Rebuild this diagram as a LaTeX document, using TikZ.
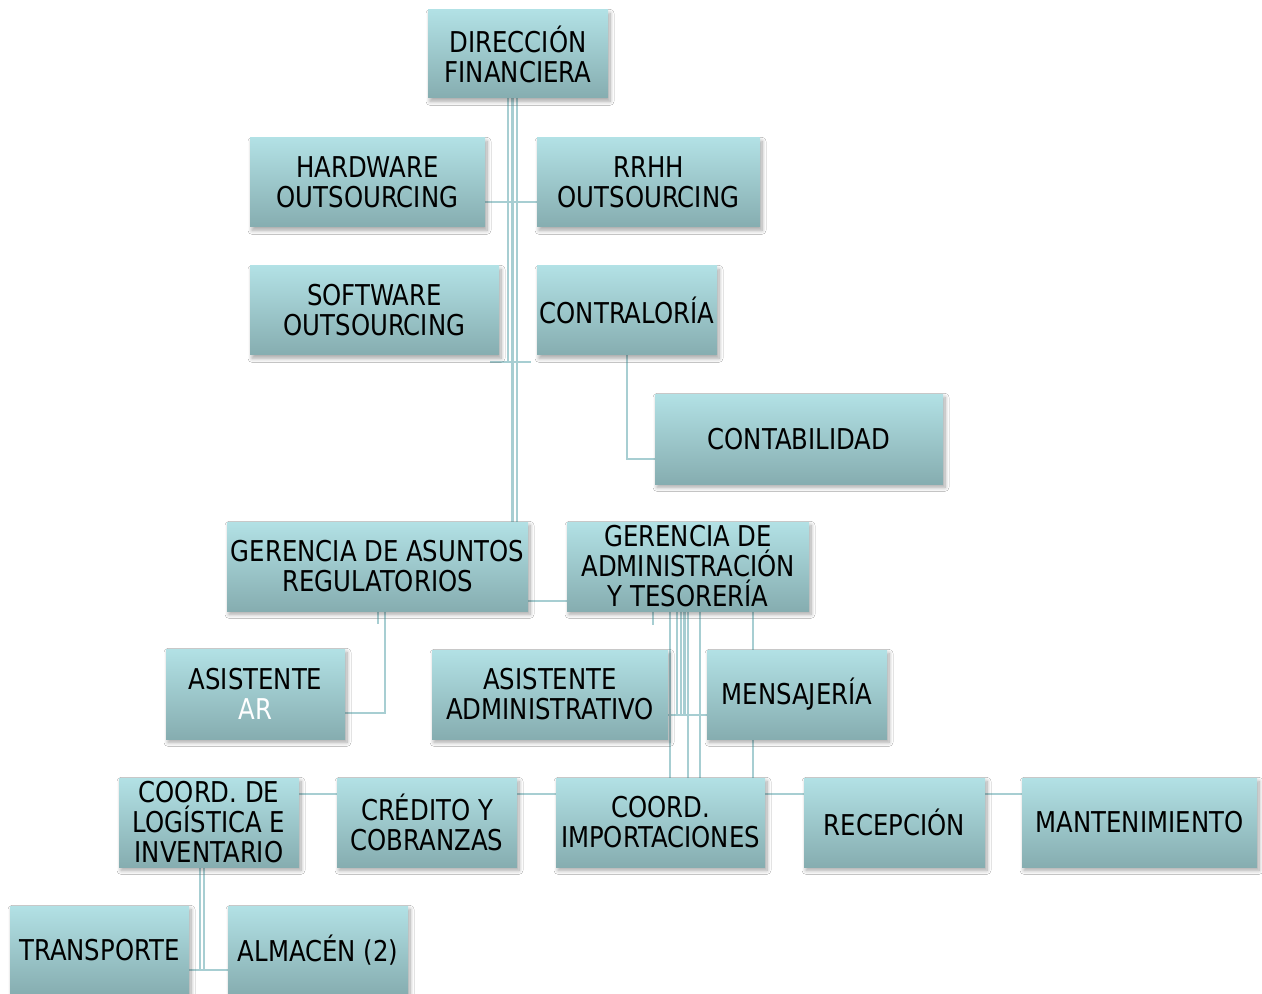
\documentclass[tikz,border=0pt]{standalone}
\usepackage{fontspec}
\setmainfont{DejaVu Sans}[FakeStretch=0.85]
\usetikzlibrary{shadows.blur,backgrounds}
\definecolor{boxtop}{HTML}{B2E1E5}
\definecolor{boxbot}{HTML}{86ADB0}
\definecolor{linec}{HTML}{A7CED2}
\tikzset{
  box/.style={draw=none, top color=boxtop, bottom color=boxbot, inner sep=0pt,
    align=center, font=\fontsize{21.5pt}{22.5pt}\selectfont,
    blur shadow={shadow xshift=1.5pt, shadow yshift=-2.5pt, shadow blur steps=8, shadow blur radius=3pt, shadow opacity=35}},
  conn/.style={draw=linec, line width=2pt}
}
\newcommand{\orgbox}[6]{\node[box, minimum width={(#4-#2)*0.75pt}, minimum height={(#5-#3)*0.75pt}] (#1) at ({(#2+#4)/2},{(#3+#5)/2}) {#6};}
\begin{document}
\begin{tikzpicture}[x=0.75pt, y=-0.75pt]
\useasboundingbox (0,0) rectangle (1262,994);
\orgbox{dir}{428}{10}{608}{98}{DIRECCIÓN\\FINANCIERA}
\orgbox{hw}{250}{138}{485}{227}{HARDWARE\\OUTSOURCING}
\orgbox{rrhh}{537}{138}{760}{227}{RRHH\\OUTSOURCING}
\orgbox{sw}{250}{266}{499}{355}{SOFTWARE\\OUTSOURCING}
\orgbox{contra}{537}{266}{717}{355}{CONTRALORÍA}
\orgbox{contab}{655}{394}{943}{484}{CONTABILIDAD}
\orgbox{gar}{227}{522}{528}{611}{GERENCIA DE ASUNTOS\\REGULATORIOS}
\orgbox{gat}{567}{522}{809}{611}{GERENCIA DE\\ADMINISTRACIÓN\\Y TESORERÍA}
\orgbox{aar}{166}{649}{345}{739}{ASISTENTE\\\textcolor{white}{AR}}
\orgbox{aadm}{432}{650}{668}{739}{ASISTENTE\\ADMINISTRATIVO}
\orgbox{mens}{707}{650}{887}{739}{MENSAJERÍA}
\orgbox{clog}{119}{778}{299}{867}{COORD. DE\\LOGÍSTICA E\\INVENTARIO}
\orgbox{cred}{337}{778}{517}{867}{CRÉDITO Y\\COBRANZAS}
\orgbox{imp}{556}{778}{765}{867}{COORD.\\IMPORTACIONES}
\orgbox{rec}{804}{778}{985}{867}{RECEPCIÓN}
\orgbox{mant}{1022}{778}{1257}{867}{MANTENIMIENTO}
\orgbox{trans}{10}{906}{189}{995}{TRANSPORTE}
\orgbox{alm}{228}{906}{408}{995}{ALMACÉN (2)}
% helper coordinates
\coordinate (t1) at (508,362);
\coordinate (t2) at (512.5,0);
\coordinate (t3) at (517,0);
\coordinate (h1) at (0,202);
\coordinate (s1) at (490,362);
\coordinate (s2) at (531,362);
\coordinate (c1) at (627,459);
\coordinate (h2) at (0,601);
\coordinate (g1) at (378,624);
\coordinate (g2) at (385,713);
\coordinate (a1) at (653,625);
\coordinate (v1) at (670,0);
\coordinate (v2) at (688,0);
\coordinate (v3) at (700,0);
\coordinate (w1) at (677,715);
\coordinate (w2) at (681,715);
\coordinate (w3) at (684.5,715);
\coordinate (h3) at (0,715);
\coordinate (m1) at (753,0);
\coordinate (h4) at (0,794);
\coordinate (l1) at (200,0);
\coordinate (l2) at (204,970);
\coordinate (h5) at (0,970);
\begin{scope}[on background layer]
\fill[white] (0,0) rectangle (1262,994);
\draw[conn] (dir.south -| t1) -- (t1);
\draw[conn] (dir.south -| t2) -- (gar.north -| t2);
\draw[conn] (dir.south -| t3) -- (gar.north -| t3);
\draw[conn] (hw.east |- h1) -- (rrhh.west |- h1);
\draw[conn] (s1) -- (s2);
\draw[conn] (contra.south -| c1) -- (c1) -- (contab.west |- c1);
\draw[conn] (gar.east |- h2) -- (gat.west |- h2);
\draw[conn] (gar.south -| g1) -- (g1);
\draw[conn] (gar.south -| g2) -- (g2) -- (aar.east |- g2);
\draw[conn] (gat.south -| a1) -- (a1);
\draw[conn] (gat.south -| v1) -- (imp.north -| v1);
\draw[conn] (gat.south -| v2) -- (imp.north -| v2);
\draw[conn] (gat.south -| v3) -- (imp.north -| v3);
\draw[conn] (gat.south -| w1) -- (w1);
\draw[conn] (gat.south -| w2) -- (w2);
\draw[conn] (gat.south -| w3) -- (w3);
\draw[conn] (aadm.east |- h3) -- (mens.west |- h3);
\draw[conn] (gat.south -| m1) -- (mens.north -| m1);
\draw[conn] (mens.south -| m1) -- (imp.north -| m1);
\draw[conn] (clog.east |- h4) -- (cred.west |- h4);
\draw[conn] (cred.east |- h4) -- (imp.west |- h4);
\draw[conn] (imp.east |- h4) -- (rec.west |- h4);
\draw[conn] (rec.east |- h4) -- (mant.west |- h4);
\draw[conn] (clog.south -| l1) -- (l1 |- h5);
\draw[conn] (clog.south -| l2) -- (l2);
\draw[conn] (trans.east |- h5) -- (alm.west |- h5);
\end{scope}
\end{tikzpicture}
\end{document}
